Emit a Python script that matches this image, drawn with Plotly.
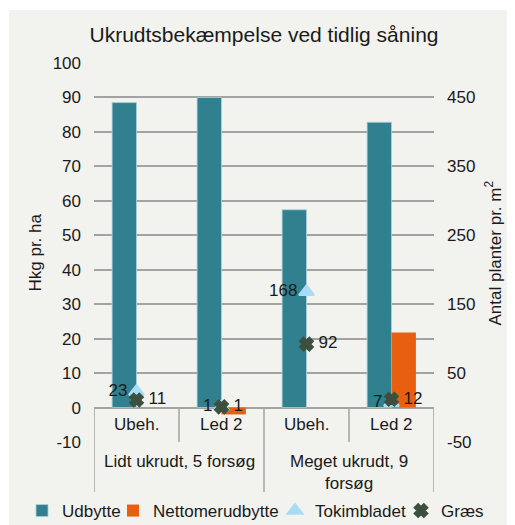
import plotly.graph_objects as go

# ---- data ----
categories = ["Ubeh.", "Led 2", "Ubeh.", "Led 2"]
groups = ["Lidt ukrudt, 5 forsøg", "Meget ukrudt, 9<br>forsøg"]
udbytte = [88.5, 90.0, 57.4, 82.8]
nettomerudbytte = [None, -2.0, None, 21.8]
tokimbladet = [23, 1, 168, 7]
graes = [11, 1, 92, 12]
left_ticks = list(range(-10, 101, 10))
right_ticks = [-50, 50, 150, 250, 350, 450]

FONT = "Liberation Sans, Arial, sans-serif"
TXT = "#1a1a1a"
GRID = "#a3a3a3"
BG = "#f2f2ee"
# page body has an 8px margin; figure occupies the rest of the 515x525 window
W, H = 507, 517

xpos = list(range(len(categories)))

fig = go.Figure()
fig.add_trace(go.Bar(x=xpos, y=udbytte, name="Udbytte", marker_color="#31808f",
                     marker_line=dict(color="rgba(170,210,218,0.8)", width=1), legend="legend"))
fig.add_trace(go.Bar(x=xpos, y=nettomerudbytte, name="Nettomerudbytte", marker_color="#e8600f",
                     marker_line=dict(width=0), legend="legend2"))
fig.add_trace(go.Scatter(x=xpos, y=tokimbladet, name="Tokimbladet", yaxis="y2", mode="markers+text",
                         text=[str(v) for v in tokimbladet], texttemplate="%{text}",
                         textposition="middle left",
                         textfont=dict(size=17, color=TXT, family=FONT),
                         marker=dict(symbol="triangle-up", size=13, color="#a8dcf6",
                                     line=dict(color="#a8dcf6", width=2)), legend="legend3"))
fig.add_trace(go.Scatter(x=xpos, y=graes, name="Græs", yaxis="y2", mode="markers+text",
                         text=[str(v) for v in graes], texttemplate=" %{text}",
                         textposition="middle right",
                         textfont=dict(size=17, color=TXT, family=FONT),
                         marker=dict(symbol="x", size=10, color="#3d4f3d",
                                     line=dict(color="#3d4f3d", width=3)), legend="legend4"))

shapes = []
# background panel
shapes.append(dict(type="rect", xref="paper", yref="paper", x0=-0.25, x1=1.3, y0=-0.3, y1=1.14,
                   fillcolor=BG, line=dict(width=0), layer="below"))
# category table lines
line_style = dict(color=GRID, width=1.5)
for b in [-0.5, 1.5, 3.5]:
    shapes.append(dict(type="line", xref="x", yref="paper", x0=b, x1=b, y0=0.0911, y1=-0.132,
                       line=line_style))
for b in [0.5, 2.5]:
    shapes.append(dict(type="line", xref="x", yref="y", x0=b, x1=b, y0=0, y1=-10, line=line_style))

annotations = []
for i, c in enumerate(categories):
    annotations.append(dict(x=i, y=-5, xref="x", yref="y", text=c, showarrow=False,
                            font=dict(size=17, color=TXT, family=FONT)))
for j, g in enumerate(groups):
    annotations.append(dict(x=2 * j + 0.5, y=-0.022, xref="x", yref="paper", text=g, showarrow=False,
                            xanchor="center", yanchor="top", font=dict(size=17, color=TXT, family=FONT)))
annotations.append(dict(x=-0.1735, y=0.5, xref="paper", yref="paper", text="Hkg pr. ha",
                        xanchor="center", yanchor="middle",
                        textangle=-90, showarrow=False, font=dict(size=17, color=TXT, family=FONT)))
annotations.append(dict(x=1.1735, y=0.5, xref="paper", yref="paper",
                        text="Antal planter pr. m<sup>2</sup>", xanchor="center", yanchor="middle",
                        textangle=-90, showarrow=False, font=dict(size=17, color=TXT, family=FONT)))

def leg(text_start_px):
    return dict(orientation="h", xref="container", yref="container",
                x=(text_start_px - 40) / W, xanchor="left",
                y=1 - 503 / H, yanchor="middle",
                font=dict(size=17, color=TXT, family=FONT), bgcolor="rgba(0,0,0,0)",
                itemwidth=30, borderwidth=0)

fig.update_layout(
    width=W, height=H, autosize=False,
    margin=dict(l=86, r=81, t=55, b=83, autoexpand=False),
    paper_bgcolor="white", plot_bgcolor="rgba(0,0,0,0)",
    font=dict(family=FONT, size=17, color=TXT),
    title=dict(text="Ukrudtsbekæmpelse ved tidlig såning", x=0.5, xref="paper",
               y=1 - 27 / H, yanchor="middle", font=dict(size=21, color=TXT, family=FONT)),
    barmode="group", bargap=0.426, bargroupgap=0,
    xaxis=dict(range=[-0.5, 3.5], showticklabels=False, showgrid=False, zeroline=False,
               showline=False, ticks=""),
    yaxis=dict(range=[-10, 100], tickvals=left_ticks, ticktext=[str(v) for v in left_ticks],
               showgrid=True, gridcolor=GRID, gridwidth=1.5,
               zeroline=True, zerolinecolor=GRID, zerolinewidth=1.5, ticks="",
               ticklabelstandoff=12, tickfont=dict(size=17, color=TXT, family=FONT)),
    yaxis2=dict(range=[-50, 500], tickvals=right_ticks, ticktext=[str(v) for v in right_ticks],
                overlaying="y", side="right",
                showgrid=False, zeroline=False, ticks="", ticklabelstandoff=12,
                tickfont=dict(size=17, color=TXT, family=FONT)),
    legend=leg(54),
    legend2=leg(145),
    legend3=leg(307),
    legend4=leg(433),
    shapes=shapes, annotations=annotations,
    showlegend=True,
)

fig.write_html("out.html")
